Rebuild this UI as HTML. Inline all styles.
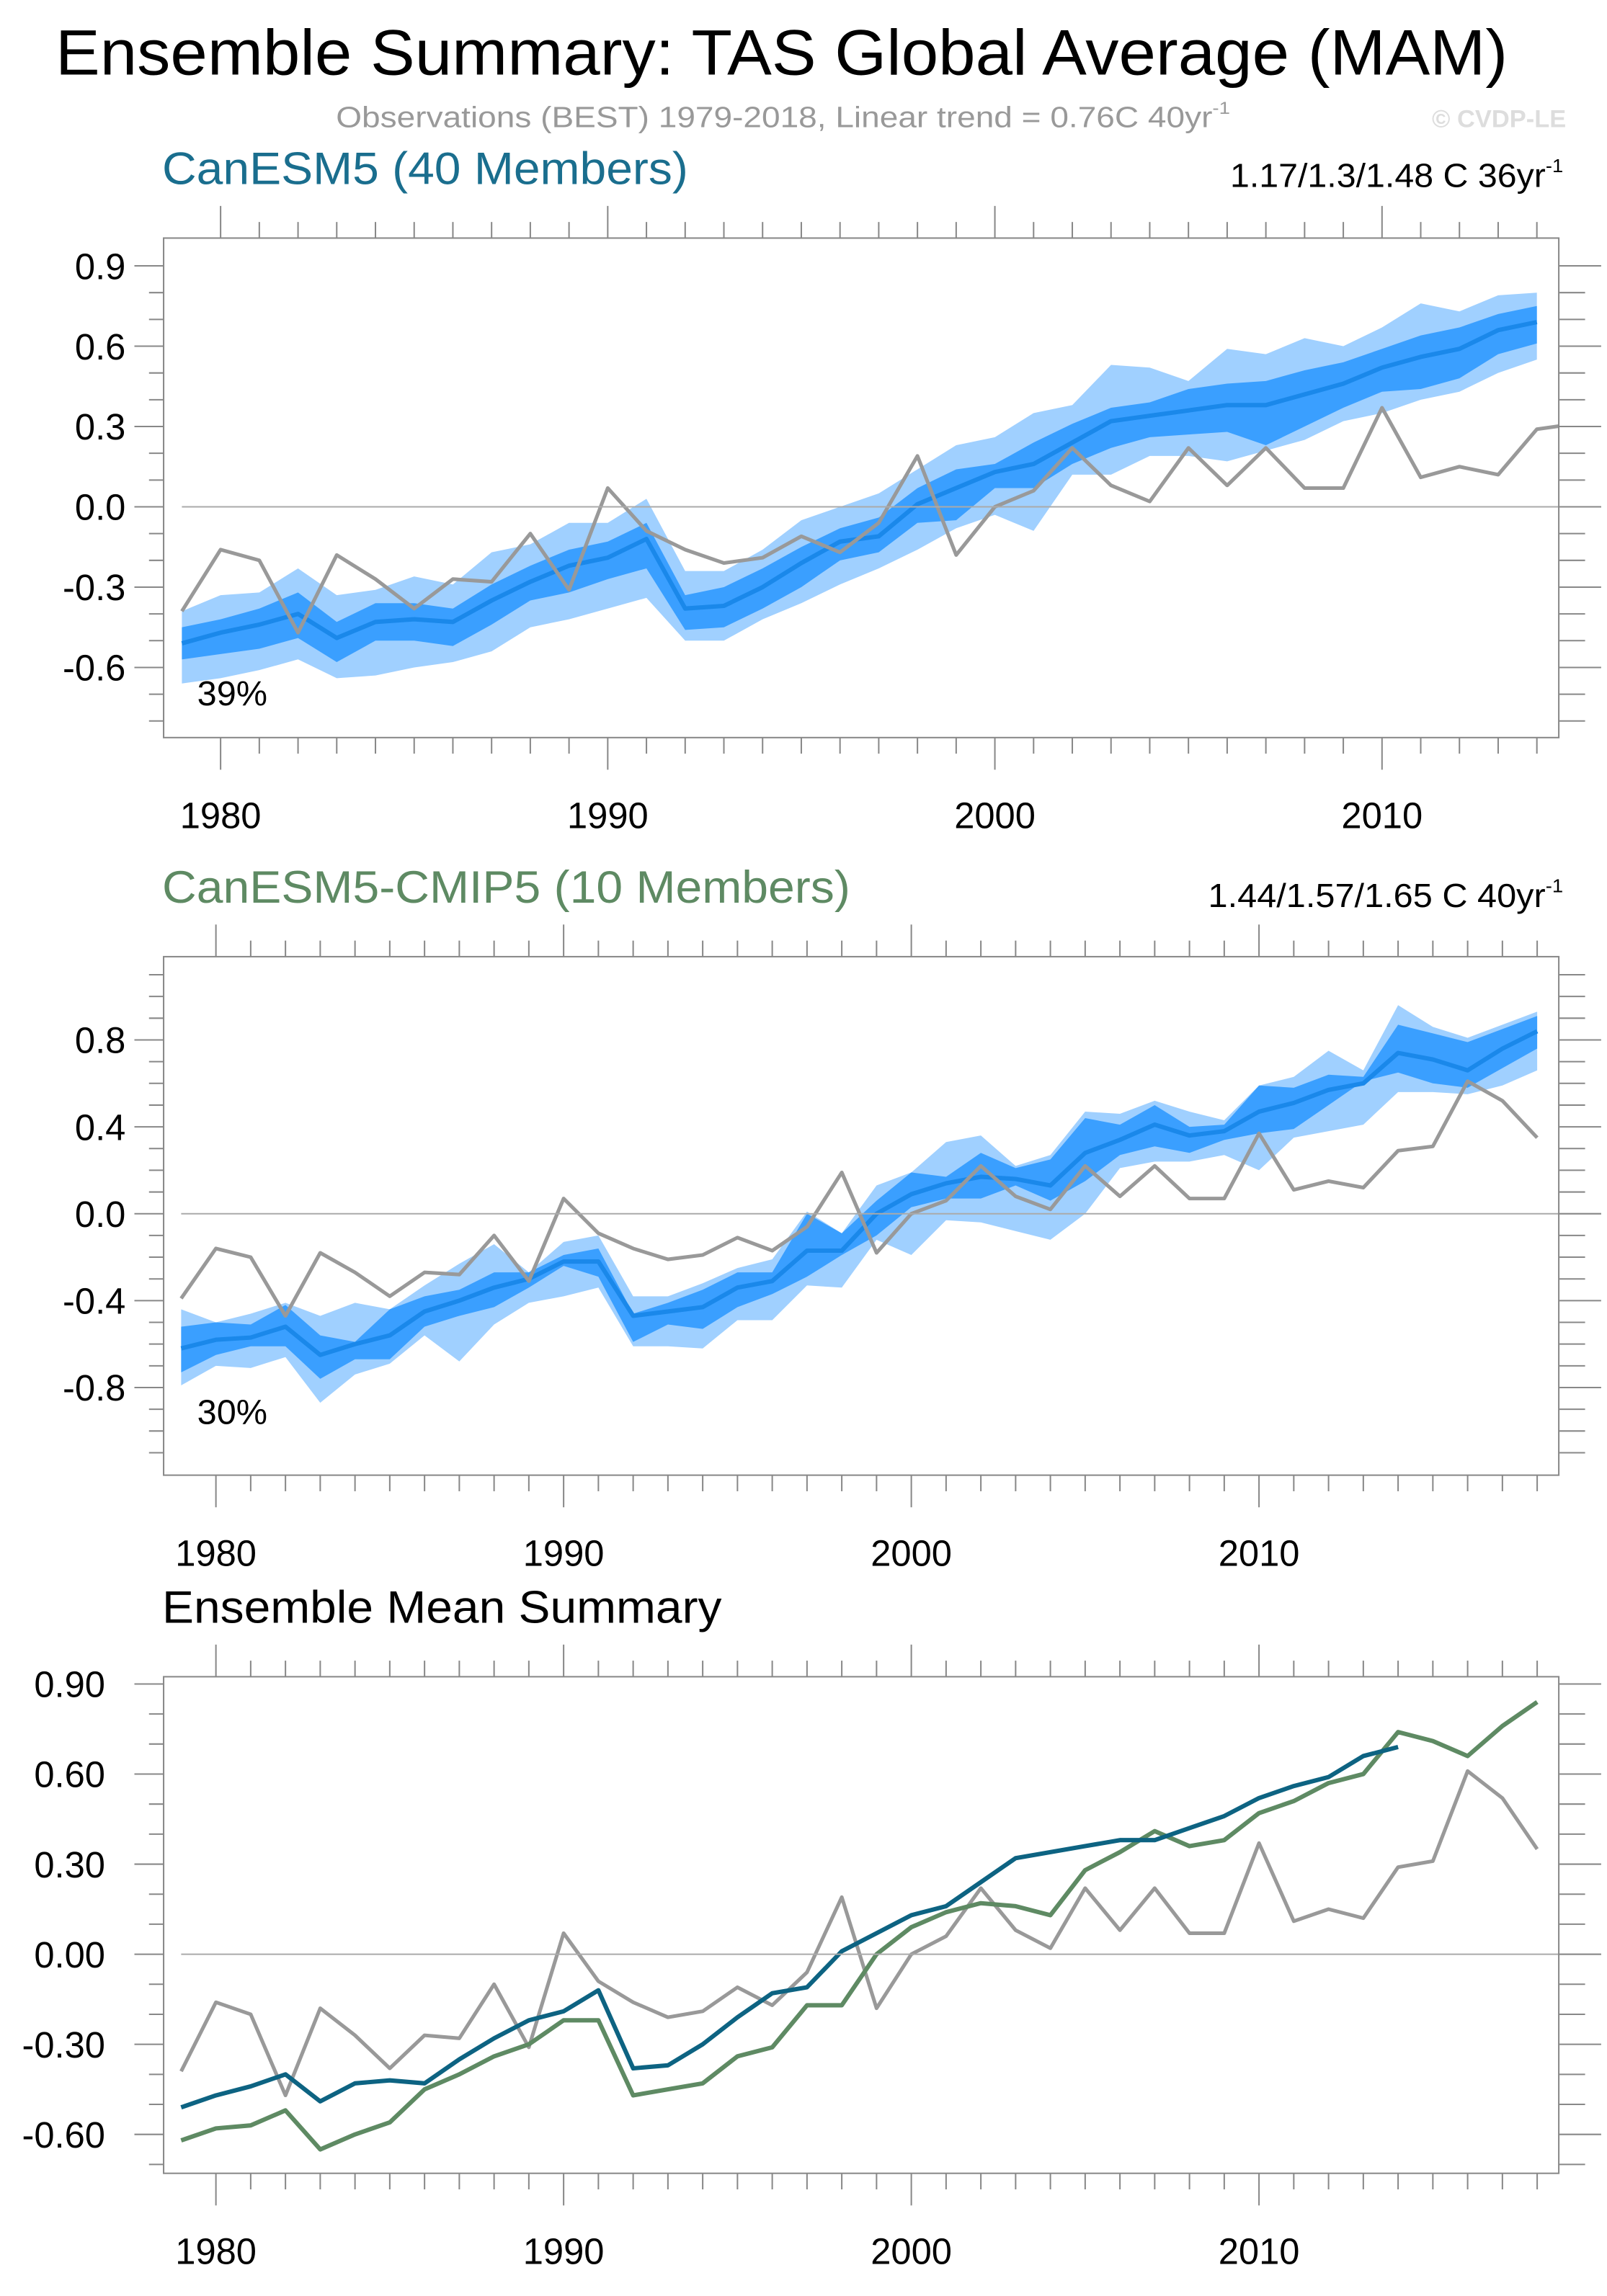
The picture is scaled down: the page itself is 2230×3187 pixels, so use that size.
<!DOCTYPE html>
<html><head><meta charset="utf-8"><style>
html,body{margin:0;padding:0;background:#fff}
svg{display:block}
text{font-family:"Liberation Sans",sans-serif}
</style></head><body>
<svg id="s" width="2230" height="3187" viewBox="0 0 1100 1572" preserveAspectRatio="none" xmlns="http://www.w3.org/2000/svg">
<text x="38" y="51" font-size="44" textLength="994" lengthAdjust="spacingAndGlyphs" fill="#000">Ensemble Summary: TAS Global Average (MAM)</text>
<text x="230" y="87" font-size="20" textLength="612" lengthAdjust="spacingAndGlyphs" fill="#999">Observations (BEST) 1979-2018, Linear trend = 0.76C 40yr<tspan font-size="12" dy="-9">-1</tspan></text>
<text x="1072" y="87" font-size="17" font-weight="bold" text-anchor="end" fill="#ddd">© CVDP-LE</text>
<text x="111" y="126" font-size="31" textLength="360" lengthAdjust="spacingAndGlyphs" fill="#1a6e8e">CanESM5 (40 Members)</text>
<text x="842" y="128" font-size="23" textLength="228" lengthAdjust="spacingAndGlyphs" fill="#000">1.17/1.3/1.48 C 36yr<tspan font-size="13" dy="-10">-1</tspan></text>
<text x="111" y="618" font-size="31" textLength="471" lengthAdjust="spacingAndGlyphs" fill="#5e8a63">CanESM5-CMIP5 (10 Members)</text>
<text x="827" y="621" font-size="23" textLength="243" lengthAdjust="spacingAndGlyphs" fill="#000">1.44/1.57/1.65 C 40yr<tspan font-size="13" dy="-10">-1</tspan></text>
<text x="111" y="1111" font-size="31" textLength="383" lengthAdjust="spacingAndGlyphs" fill="#000">Ensemble Mean Summary</text>
</svg>
<script>
const obsYears=[1979,1980,1981,1982,1983,1984,1985,1986,1987,1988,1989,1990,1991,1992,1993,1994,1995,1996,1997,1998,1999,2000,2001,2002,2003,2004,2005,2006,2007,2008,2009,2010,2011,2012,2013,2014,2015,2016,2017,2018];
const obsValues=[-0.39,-0.16,-0.20,-0.47,-0.18,-0.27,-0.38,-0.27,-0.28,-0.10,-0.31,0.07,-0.09,-0.16,-0.21,-0.19,-0.11,-0.17,-0.06,0.19,-0.18,0.00,0.06,0.22,0.08,0.02,0.22,0.08,0.22,0.07,0.07,0.37,0.11,0.15,0.12,0.29,0.31,0.61,0.52,0.35];
const c5Mean=[-0.51,-0.47,-0.44,-0.40,-0.49,-0.43,-0.42,-0.43,-0.35,-0.28,-0.22,-0.19,-0.12,-0.38,-0.37,-0.30,-0.21,-0.13,-0.11,0.01,0.07,0.13,0.16,0.24,0.32,0.34,0.36,0.38,0.38,0.42,0.46,0.52,0.56,0.59,0.66,0.69];
const c5LightHi=[-0.39,-0.33,-0.32,-0.23,-0.33,-0.31,-0.26,-0.29,-0.17,-0.14,-0.06,-0.06,0.03,-0.24,-0.24,-0.16,-0.05,0.0,0.05,0.14,0.23,0.26,0.35,0.38,0.53,0.52,0.47,0.59,0.57,0.63,0.60,0.67,0.76,0.73,0.79,0.80];
const c5LightLo=[-0.66,-0.64,-0.61,-0.57,-0.64,-0.63,-0.60,-0.58,-0.54,-0.45,-0.42,-0.38,-0.34,-0.50,-0.50,-0.42,-0.36,-0.29,-0.23,-0.16,-0.08,-0.03,-0.09,0.12,0.12,0.19,0.19,0.17,0.21,0.25,0.32,0.35,0.40,0.43,0.50,0.55];
const c5DarkHi=[-0.45,-0.42,-0.38,-0.32,-0.43,-0.36,-0.36,-0.38,-0.29,-0.22,-0.16,-0.13,-0.06,-0.33,-0.30,-0.23,-0.15,-0.08,-0.04,0.07,0.14,0.16,0.24,0.31,0.37,0.39,0.44,0.46,0.47,0.51,0.54,0.59,0.64,0.67,0.72,0.75];
const c5DarkLo=[-0.57,-0.55,-0.53,-0.49,-0.58,-0.50,-0.50,-0.52,-0.44,-0.35,-0.32,-0.27,-0.23,-0.46,-0.45,-0.38,-0.30,-0.20,-0.17,-0.06,-0.05,0.07,0.07,0.16,0.22,0.26,0.27,0.28,0.23,0.30,0.37,0.43,0.44,0.48,0.57,0.61];
const cmMean=[-0.62,-0.58,-0.57,-0.52,-0.65,-0.60,-0.56,-0.45,-0.40,-0.34,-0.30,-0.22,-0.22,-0.47,-0.45,-0.43,-0.34,-0.31,-0.17,-0.17,0.00,0.09,0.14,0.17,0.16,0.13,0.28,0.34,0.41,0.36,0.38,0.47,0.51,0.57,0.60,0.74,0.71,0.66,0.76,0.84];
const cmLightHi=[-0.44,-0.50,-0.46,-0.41,-0.47,-0.41,-0.44,-0.33,-0.23,-0.14,-0.27,-0.13,-0.10,-0.38,-0.38,-0.32,-0.25,-0.21,0.01,-0.09,0.13,0.19,0.33,0.36,0.22,0.27,0.47,0.46,0.52,0.47,0.43,0.59,0.63,0.75,0.66,0.96,0.86,0.81,0.87,0.93];
const cmLightLo=[-0.79,-0.70,-0.71,-0.66,-0.87,-0.74,-0.69,-0.56,-0.68,-0.51,-0.41,-0.38,-0.34,-0.61,-0.61,-0.62,-0.49,-0.49,-0.33,-0.34,-0.12,-0.19,-0.03,-0.04,-0.08,-0.12,0.0,0.21,0.24,0.24,0.27,0.20,0.35,0.38,0.41,0.56,0.56,0.55,0.59,0.66];
const cmDarkHi=[-0.52,-0.50,-0.51,-0.42,-0.56,-0.59,-0.44,-0.38,-0.35,-0.27,-0.27,-0.19,-0.16,-0.46,-0.41,-0.35,-0.27,-0.27,0.0,-0.09,0.06,0.19,0.17,0.28,0.21,0.25,0.44,0.41,0.50,0.40,0.41,0.59,0.58,0.64,0.63,0.87,0.83,0.79,0.85,0.91];
const cmDarkLo=[-0.73,-0.65,-0.61,-0.61,-0.76,-0.67,-0.67,-0.52,-0.47,-0.43,-0.34,-0.24,-0.29,-0.59,-0.51,-0.53,-0.43,-0.37,-0.29,-0.19,-0.10,0.03,0.07,0.07,0.13,0.06,0.15,0.27,0.31,0.28,0.34,0.37,0.39,0.50,0.61,0.65,0.60,0.58,0.67,0.76];
const p1YTicks=["0.9","0.6","0.3","0.0","-0.3","-0.6"];
const p1YTickVals=[0.9,0.6,0.3,0.0,-0.3,-0.6];
const p2YTicks=["0.8","0.4","0.0","-0.4","-0.8"];
const p2YTickVals=[0.8,0.4,0.0,-0.4,-0.8];
const p3YTicks=["0.90","0.60","0.30","0.00","-0.30","-0.60"];
const p3YTickVals=[0.9,0.6,0.3,0.0,-0.3,-0.6];
const xTickLabels=["1980","1990","2000","2010"];
const xTickYears=[1980,1990,2000,2010];

const NS="http://www.w3.org/2000/svg";
const svg=document.getElementById('s');
function mk(tag,attrs,parent){const e=document.createElementNS(NS,tag);for(const k in attrs)e.setAttribute(k,attrs[k]);(parent||svg).appendChild(e);return e;}

function panel(id,cfg){
  const g=mk('g',{});
  
  
  const L=112,R=1067,T=cfg.top,B=cfg.bottom;
  const xs=y=>cfg.x0+(y-cfg.y0)*cfg.dx;
  const ys=v=>cfg.zero-v*cfg.dv;
  const cp=mk('clipPath',{id:'clip-'+id},g);
  mk('rect',{x:L,y:T,width:R-L,height:B-T},cp);
  const plot=mk('g',{'clip-path':'url(#clip-'+id+')'},g);
  const zl=mk('line',{x1:cfg.x0,x2:1096,y1:ys(0),y2:ys(0),stroke:'#aaa','stroke-width':1},g);
  
  
  function band(hi,lo,col,name){
    let pts=[];for(let i=0;i<hi.length;i++)pts.push(xs(cfg.y0+i)+','+ys(hi[i]));
    for(let i=lo.length-1;i>=0;i--)pts.push(xs(cfg.y0+i)+','+ys(lo[i]));
    const p=mk('polygon',{points:pts.join(' '),fill:col},plot);
    
    
  }
  function line(vals,col,w,name){
    const pts=vals.map((v,i)=>xs(cfg.y0+i)+','+ys(v)).join(' ');
    const p=mk('polyline',{points:pts,fill:'none',stroke:col,'stroke-width':w,'stroke-linejoin':'round'},plot);
    
    
  }
  if(cfg.bands){
    band(cfg.bands[0],cfg.bands[1],'#a0d0ff','light-spread-band');
    band(cfg.bands[2],cfg.bands[3],'#3a9fff','dark-spread-band');
  }
  cfg.lines.forEach(l=>line(l[0],l[1],l[2],l[3]));
  mk('rect',{x:L,y:T,width:R-L,height:B-T,fill:'none',stroke:'#888','stroke-width':1},g);
  for(let yr=1980;yr<=cfg.lastYear;yr++){
    const x=xs(yr);if(x>R)continue;
    const major=yr%10==0;
    mk('line',{x1:x,x2:x,y1:T,y2:major?T-22:T-11,stroke:'#888','stroke-width':1},g);
    mk('line',{x1:x,x2:x,y1:B,y2:major?B+22:B+11,stroke:'#888','stroke-width':1},g);
  }
  xTickLabels.forEach((t,i)=>{
    const e=mk('text',{x:xs(xTickYears[i]),y:B+62,'font-size':25,'text-anchor':'middle'},g);
    e.textContent=t;
    
    
  });
  for(let k=-20;k<=20;k++){
    const v=k*cfg.minor;const y=ys(v);
    if(y<T+2||y>B-2)continue;
    const major=cfg.yVals.some(m=>Math.abs(m-v)<1e-6);
    mk('line',{x1:L,x2:major?L-20:L-10,y1:y,y2:y,stroke:'#888','stroke-width':1},g);
    mk('line',{x1:R,x2:major?R+29:R+18,y1:y,y2:y,stroke:'#888','stroke-width':1},g);
  }
  cfg.yLabels.forEach((t,i)=>{
    const e=mk('text',{x:cfg.yLabX,y:ys(cfg.yVals[i])+9,'font-size':25,'text-anchor':'end'},g);
    e.textContent=t;
    
    
  });
  if(cfg.pct){
    const e=mk('text',{x:135,y:cfg.pctY,'font-size':24},g);
    e.textContent=cfg.pct;
    
    
  }
}
panel('canesm5-panel',{top:163,bottom:505,x0:124.5,y0:1979,dx:26.5,zero:347,dv:183.3,minor:0.1,yLabX:86,
  yLabels:p1YTicks,yVals:p1YTickVals,lastYear:2014,pct:'39%',pctY:483,
  bands:[c5LightHi,c5LightLo,c5DarkHi,c5DarkLo],
  lines:[[c5Mean,'#1a88ea',3,'ensemble-mean-line'],[obsValues,'#999',2.5,'observations-line']]});
panel('canesm5-cmip5-panel',{top:655,bottom:1010,x0:124,y0:1979,dx:23.8,zero:831,dv:148.75,minor:0.1,yLabX:86,
  yLabels:p2YTicks,yVals:p2YTickVals,lastYear:2018,pct:'30%',pctY:975,
  bands:[cmLightHi,cmLightLo,cmDarkHi,cmDarkLo],
  lines:[[cmMean,'#1a88ea',3,'ensemble-mean-line'],[obsValues,'#999',2.5,'observations-line']]});
panel('ensemble-mean-panel',{top:1148,bottom:1488,x0:124,y0:1979,dx:23.8,zero:1338,dv:205.6,minor:0.1,yLabX:72,
  yLabels:p3YTicks,yVals:p3YTickVals,lastYear:2018,
  lines:[[obsValues,'#999',2.5,'observations-line'],[cmMean,'#5e8a63',3,'canesm5-cmip5-mean-line'],[c5Mean,'#0d6382',3,'canesm5-mean-line']]});
</script>
</body></html>
